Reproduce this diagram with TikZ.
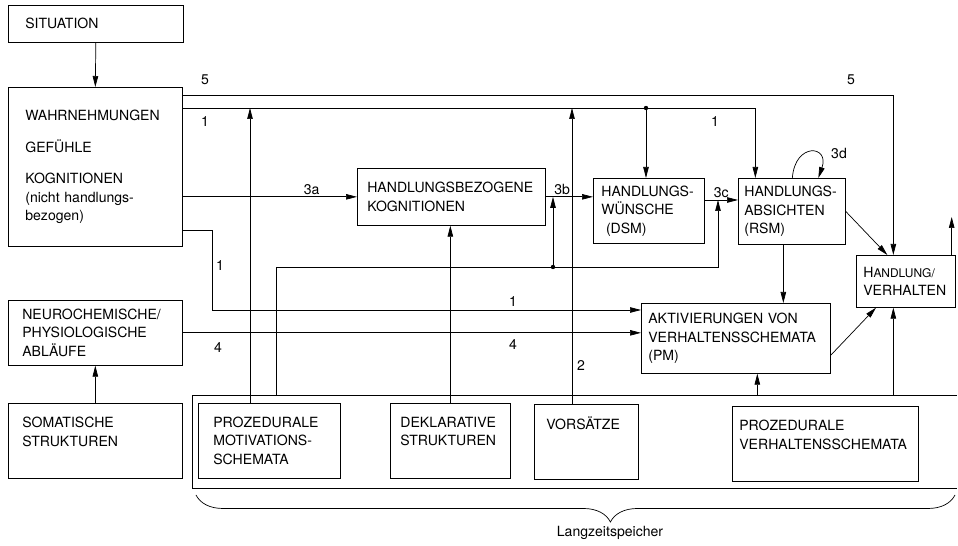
\documentclass[tikz,border=0pt]{standalone}
\usepackage{fontspec}
\setmainfont{TeX Gyre Heros}
\usetikzlibrary{arrows.meta,positioning,decorations.pathreplacing}

\begin{document}
\begin{tikzpicture}[
  x=0.02cm, y=-0.02cm,
  font=\fontsize{8}{10.5}\selectfont,
  box/.style={rectangle, draw, anchor=north west, align=left, inner ysep=0pt},
  arr/.style={-{Triangle[length=2.2mm,width=1.1mm]}},
  num/.style={inner sep=1pt},
  dot/.style={circle, fill, inner sep=0pt, minimum size=2.5pt}
]
  \useasboundingbox (0,0) rectangle (958,546);

  % linke Spalte
  \node[box, text width=2.82cm, inner xsep=0.34cm, minimum height=0.74cm] (sit) at (8,5) {SITUATION};
  \node[box, text width=2.8cm, inner xsep=0.34cm, minimum height=3.18cm] (wahr) at (8,87)
    {WAHRNEHMUNGEN\\[8pt]GEFÜHLE\\[7pt]KOGNITIONEN\\(nicht handlungs-\\bezogen)};
  \node[box, text width=2.92cm, inner xsep=0.28cm, minimum height=1.3cm] (neuro) at (8,300)
    {NEUROCHEMISCHE/\\PHYSIOLOGISCHE\\ABLÄUFE};
  \node[box, text width=2.92cm, inner xsep=0.28cm, minimum height=1.5cm] (soma) at (8,403)
    {SOMATISCHE\\STRUKTUREN\\\mbox{}};

  % mittlere Reihe
  \node[box, text width=3.36cm, inner xsep=0.2cm, minimum height=1.14cm] (hbk) at (357,168)
    {HANDLUNGSBEZOGENE\\KOGNITIONEN};
  \node[box, text width=1.9cm, inner xsep=0.16cm, minimum height=1.3cm] (hw) at (593,178)
    {HANDLUNGS-\\WÜNSCHE\\\ (DSM)};
  \node[box, text width=1.9cm, inner xsep=0.12cm, minimum height=1.32cm] (ha) at (738,178)
    {HANDLUNGS-\\ABSICHTEN\\(RSM)};
  \node[box, text width=3.5cm, inner xsep=0.14cm, minimum height=1.4cm] (akt) at (641,303)
    {AKTIVIERUNGEN VON\\VERHALTENSSCHEMATA\\(PM)};
  \node[box, text width=1.7cm, inner xsep=0.14cm, minimum height=1.04cm] (hand) at (856,255)
    {H{\fontsize{6.8}{10.5}\selectfont ANDLUNG/}\\VERHALTEN};

  % Langzeitspeicher
  \coordinate (lz) at (192,395);
  \draw (957,395) -| (192,488) -- (957,488);
  \node[box, text width=2.24cm, inner xsep=0.3cm, minimum height=1.5cm] (pmot) at (198,403)
    {PROZEDURALE\\MOTIVATIONS-\\SCHEMATA};
  \node[box, text width=2.0cm, inner xsep=0.2cm, minimum height=1.5cm] (dekl) at (390,403)
    {DEKLARATIVE\\STRUKTUREN\\\mbox{}};
  \node[box, text width=1.6cm, inner xsep=0.24cm, minimum height=1.5cm] (vors) at (534,404)
    {VORSÄTZE\\\mbox{}\\\mbox{}};
  \node[box, text width=3.44cm, inner xsep=0.14cm, minimum height=1.5cm] (pverh) at (732,406)
    {PROZEDURALE\\VERHALTENSSCHEMATA\\\mbox{}};
  \draw[decorate, decoration={brace, mirror, amplitude=0.54cm, aspect=0.546}] (196,495) -- (955,495);
  \node (lzsl) at (610,533) {Langzeitspeicher};

  % Verbindungen
  \draw[arr] (sit.south) -- (wahr.north);
  \draw[arr] (soma.north) -- (neuro.south);

  \draw[arr] (wahr.east |- 0,95) -| ([xshift=-0.25cm]hand.north);
  \node[num] (n5a) at (205,80) {5};
  \node[num] (n5b) at (851,80) {5};

  \coordinate (j1) at (646,108);
  \draw[arr] (wahr.east |- j1) -| ([xshift=-0.73cm]ha.north);
  \draw[arr] (j1) -- (j1 |- hw.north);
  \node[dot] (d1) at (j1) {};
  \node[num] (n1a) at (205,122) {1};
  \node[num] (n1b) at (715,122) {1};

  \coordinate (m1) at (250,108);
  \coordinate (v1) at (572,108);
  \draw[arr] (pmot.north -| m1) -- (m1);
  \draw[arr] (vors.north -| v1) -- (v1);
  \node[num] (n2) at (581,366) {2};

  \draw[arr] (wahr.east |- hbk.west) -- node[num, above, pos=0.74]{3a} (hbk.west);
  \draw[arr] (hbk.east) -- node[num, above, pos=0.35]{3b} (hbk.east -| hw.west);
  \coordinate (c3) at (718,200);
  \draw[arr] (hw.east |- c3) -- node[num, above]{3c} (ha.west |- c3);
  \draw[arr] ([xshift=0.01cm]ha.north) .. controls (795,142) and (830,145) .. ([xshift=0.53cm]ha.north);
  \node[num] (n3d) at (839,153) {3d};

  \draw[arr] (ha.east) -- ([xshift=-0.37cm]hand.north);
  \draw[arr] ([xshift=-0.17cm]ha.south) -- ([xshift=-0.17cm]ha.south |- akt.north);
  \draw[arr] ([yshift=-0.34cm]akt.east) -- ([xshift=0.4cm]hand.south west);
  \draw[arr] ([xshift=-0.08cm]hand.north east) -- ++(0,-38);

  % Rueckkopplung aus dem Langzeitspeicher
  \coordinate (f1) at (276,267);
  \coordinate (f2) at (553,267);
  \draw[arr] (lz -| f1) -- (f1) -- (f1 -| c3) -- (c3);
  \draw[arr] (f2) -- (f2 |- hbk.east);
  \node[dot] (d2) at (f2) {};
  \draw[arr] (dekl.north) -- (dekl.north |- hbk.south);
  \draw[arr] ([xshift=0.43cm]akt.south |- lz) -- ([xshift=0.43cm]akt.south);
  \draw[arr] ([xshift=-0.25cm]hand.south |- lz) -- ([xshift=-0.25cm]hand.south);

  % Pfade 1 und 4 zu den Aktivierungen
  \coordinate (k1) at (212,310);
  \draw[arr] (wahr.east |- 0,230) -| (k1) -- (k1 -| akt.west);
  \node[num] (n1c) at (220,266) {1};
  \node[num] (n1d) at (513,302) {1};
  \draw[arr] (neuro.east) -- (neuro.east -| akt.west);
  \node[num] (n4a) at (218,348) {4};
  \node[num] (n4b) at (513,345) {4};
\end{tikzpicture}
\end{document}
